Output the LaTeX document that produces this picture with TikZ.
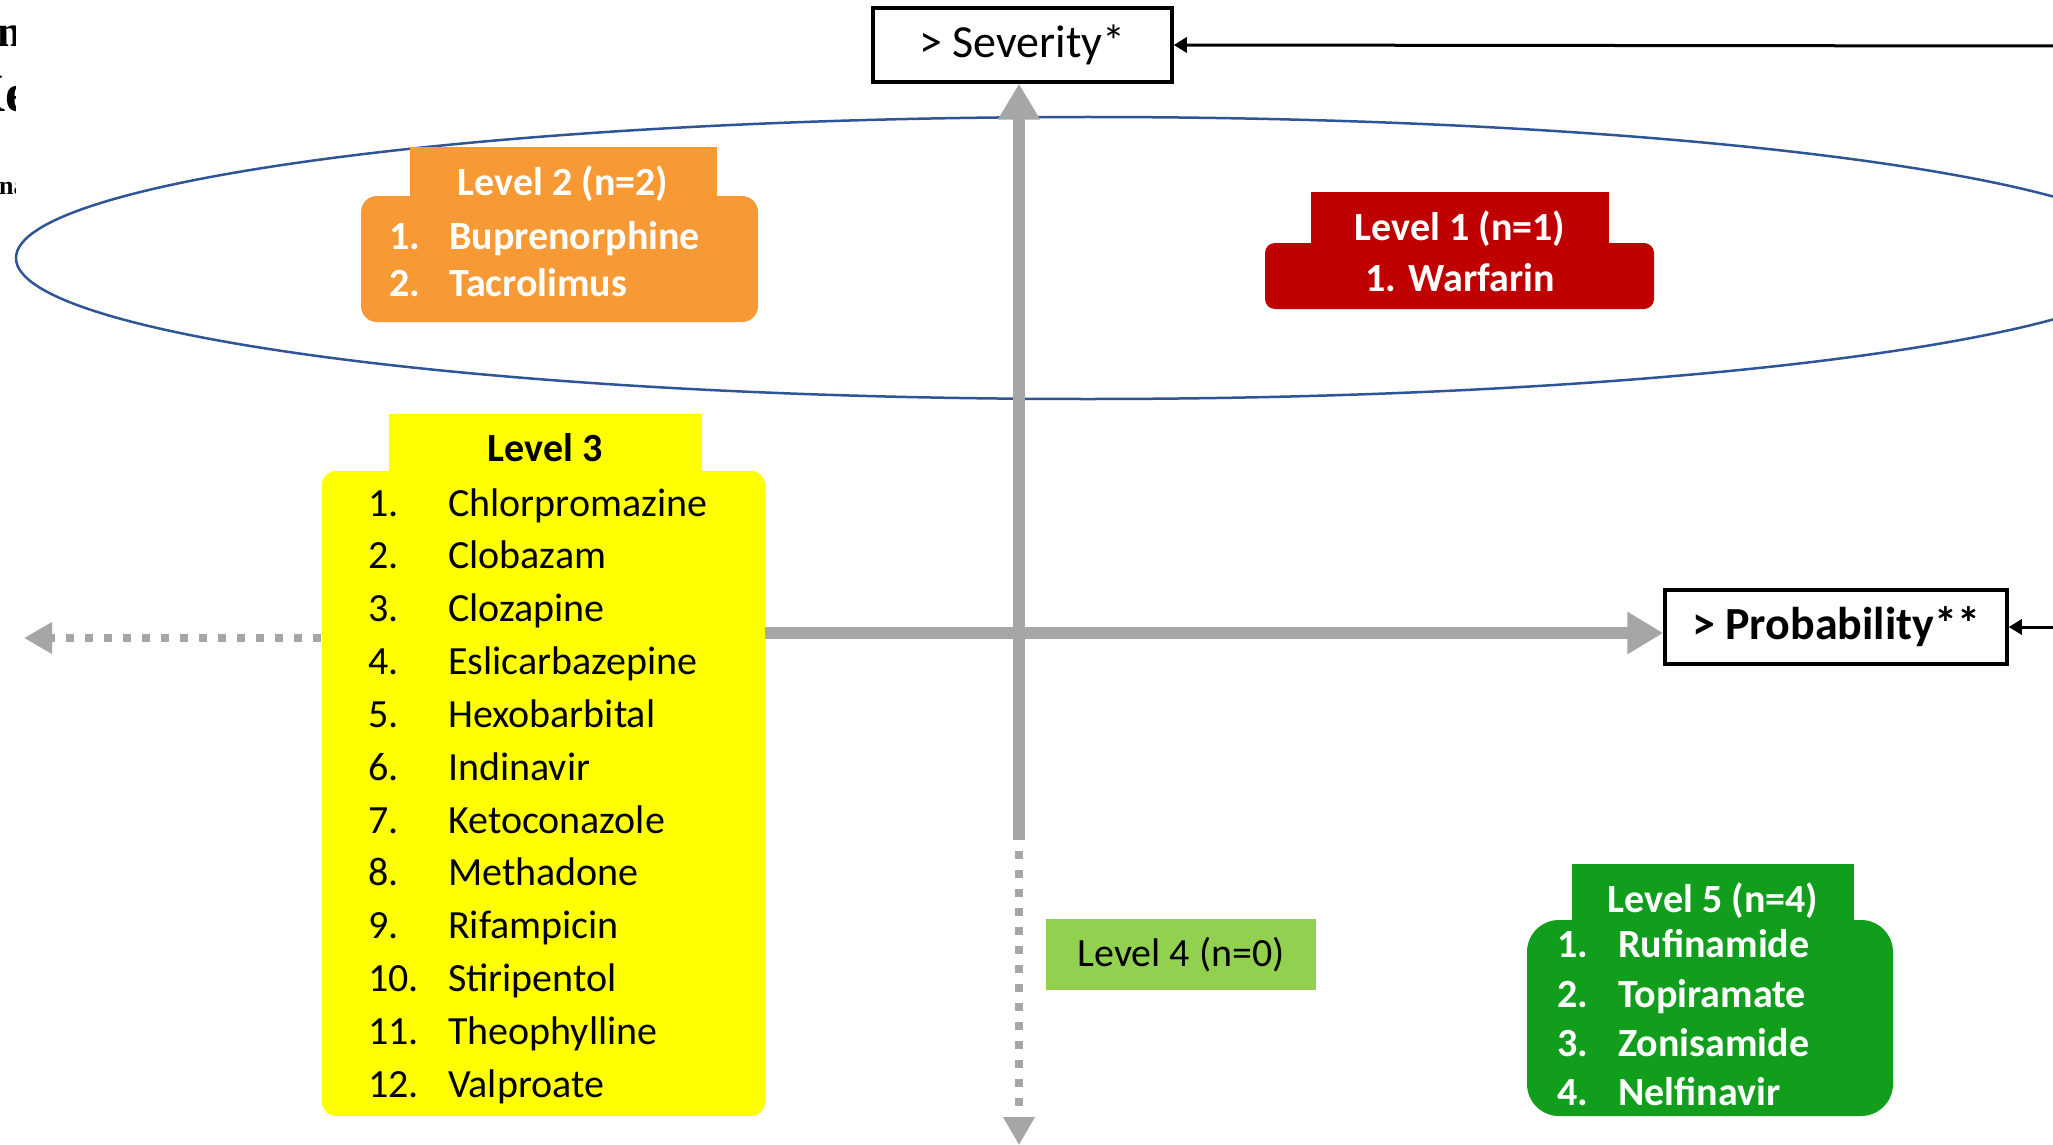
\documentclass[tikz,border=0pt]{standalone}
\usepackage{fontspec}
\setmainfont{Carlito}
\newfontfamily\fragfont{Liberation Serif}
\usetikzlibrary{arrows.meta}
\definecolor{orangeL}{RGB}{247,153,52}
\definecolor{redL}{RGB}{192,0,0}
\definecolor{yellowL}{RGB}{255,255,0}
\definecolor{lgreenL}{RGB}{146,208,80}
\definecolor{dgreenL}{RGB}{17,158,28}
\definecolor{grayA}{RGB}{166,166,166}
\definecolor{blueE}{RGB}{47,85,151}
\begin{document}
\begin{tikzpicture}[x=1pt,y=-1pt,
  fsz/.style={font=\fontsize{40}{48}\selectfont},
  txt/.style={inner sep=0pt, fsz},
  wtxt/.style={txt, text=white, font=\fontsize{40}{48}\selectfont\bfseries},
  btxt/.style={txt, text=black},
  frag/.style={inner sep=0pt, anchor=base west},
  panel/.style={rectangle, inner sep=0pt, draw=none},
  axisbox/.style={rectangle, draw=black, line width=3.5pt, fill=white, inner sep=0pt},
  garrow/.style={draw=grayA, line width=12pt, -{Triangle[width=40pt,length=36pt]}},
  gdot/.style={draw=grayA, line width=8pt, dash pattern=on 8pt off 11pt, -{Triangle[width=30pt,length=28pt]}},
  barrow/.style={draw=black, line width=3pt, -{Triangle[width=15pt,length=13pt]}}
]
\useasboundingbox (0,0) rectangle (2053,1145);
\clip (0,0) rectangle (2053,1145);
\fill[white] (0,0) rectangle (2053,1145);

% cropped fragments of a neighbouring figure at top-left (cut at x=15)
\begin{scope}
\clip (0,0) rectangle (15,210);
\node[frag, font=\fragfont\fontsize{44}{50}\selectfont\bfseries] (frag1) at (-3,47) {n};
\node[frag, font=\fragfont\fontsize{54}{60}\selectfont\bfseries] (frag2) at (-37,112) {Ke};
\node[frag, font=\fragfont\fontsize{26}{30}\selectfont\bfseries] (frag3) at (-1,194) {na};
\end{scope}

% ellipse
\draw[blueE, line width=2.5pt] (1088,258) ellipse [x radius=1072, y radius=141];

% axis label boxes
\node[axisbox, minimum width=299pt, minimum height=74pt, font=\fontsize{46}{52}\selectfont] (sev) at (1022.5,45) {> Severity*};
\node[axisbox, minimum width=342pt, minimum height=74pt, font=\fontsize{46}{52}\selectfont\bfseries] (prob) at (1836,627) {> Probability**};

% coordinates
\coordinate (vbot) at (1019,840);
\coordinate (vdot1) at (1019,851);
\coordinate (vdot2) at (1019,1145);
\coordinate (hstart) at (700,633);
\coordinate (hdot1) at (321,638);
\coordinate (hdot2) at (24,638);
\coordinate (rt1) at (2053,46);
\coordinate (rt2) at (2053,627);

% gray axes
\draw[garrow] (vbot) -- (vbot |- sev.south);
\draw[gdot] (vdot1) -- (vdot2);
\draw[garrow] (hstart) -- (hstart -| prob.west);
\draw[gdot] (hdot1) -- (hdot2);

% black arrows
\draw[barrow] (rt1) -- (sev.east);
\draw[barrow] (rt2) -- (prob.east);

% Level 2
\node[panel, fill=orangeL, rounded corners=16pt, minimum width=397pt, minimum height=126pt] (l2body) at (559.5,259) {};
\node[panel, fill=orangeL, minimum width=307pt, minimum height=52pt] (l2tab) at (563.5,173) {};
\node[wtxt, anchor=base] (l2t) at (563,195) {Level 2 (n=2)};
\node[wtxt, anchor=base west] (l2n1) at (389,249) {1.};
\node[wtxt, anchor=base west] (l2d1) at (449,249) {Buprenorphine};
\node[wtxt, anchor=base west] (l2n2) at (389,296) {2.};
\node[wtxt, anchor=base west] (l2d2) at (449,296) {Tacrolimus};

% Level 1
\node[panel, fill=redL, rounded corners=10pt, minimum width=389pt, minimum height=66pt] (l1body) at (1459.5,276) {};
\node[panel, fill=redL, minimum width=298pt, minimum height=53pt] (l1tab) at (1460,218.5) {};
\node[wtxt, anchor=base] (l1t) at (1460,240) {Level 1 (n=1)};
\node[wtxt, anchor=base] (l1d1) at (1460,291) {1. Warfarin};

% Level 3
\node[panel, fill=yellowL, rounded corners=14pt, minimum width=443pt, minimum height=645pt] (l3body) at (543.5,793.5) {};
\node[panel, fill=yellowL, minimum width=313pt, minimum height=60pt] (l3tab) at (545.5,444) {};
\node[btxt, anchor=base, font=\fontsize{40}{48}\selectfont\bfseries] (l3t) at (545,461) {Level 3};
\foreach \d [count=\k] in {Chlorpromazine,Clobazam,Clozapine,Eslicarbazepine,Hexobarbital,Indinavir,Ketoconazole,Methadone,Rifampicin,Stiripentol,Theophylline,Valproate}{
  \pgfmathsetmacro{\yy}{503+(\k-1)*52.85+13}
  \node[btxt, anchor=base west] (l3n\k) at (368,\yy) {\k.};
  \node[btxt, anchor=base west] (l3d\k) at (448,\yy) {\d};
}

% Level 4
\node[panel, fill=lgreenL, minimum width=270pt, minimum height=71pt, fsz] (l4) at (1181,954.5) {Level 4 (n=0)};

% Level 5
\node[panel, fill=dgreenL, rounded corners=32pt, minimum width=366pt, minimum height=196pt] (l5body) at (1710,1018) {};
\node[panel, fill=dgreenL, minimum width=282pt, minimum height=59pt] (l5tab) at (1713,893.5) {};
\node[wtxt, anchor=base] (l5t) at (1713,912) {Level 5 (n=4)};
\foreach \d/\yc [count=\k] in {Rufinamide/944,Topiramate/994,Zonisamide/1043,Nelfinavir/1092}{
  \pgfmathsetmacro{\yy}{\yc+13}
  \node[wtxt, anchor=base west] (l5n\k) at (1557,\yy) {\k.};
  \node[wtxt, anchor=base west] (l5d\k) at (1618,\yy) {\d};
}
\end{tikzpicture}
\end{document}
